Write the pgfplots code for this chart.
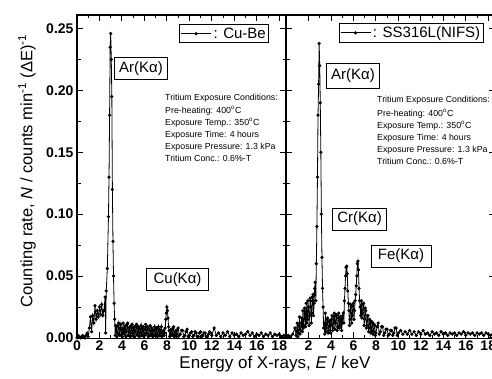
\documentclass[border=0pt]{standalone}
\usepackage{pgfplots}
\pgfplotsset{compat=1.18}
\usepackage{fontspec}
\setmainfont{Liberation Sans}
\setsansfont{Liberation Sans}

\pgfplotstableread{
x y
0.0 0.000
0.1 0.002
0.2 0.001
0.3 0.000
0.4 0.001
0.5 0.002
0.6 0.001
0.7 0.000
0.8 0.002
0.9 0.004
1.0 0.001
1.1 0.008
1.2 0.017
1.3 0.005
1.4 0.018
1.5 0.012
1.6 0.026
1.7 0.015
1.8 0.022
1.9 0.017
2.0 0.025
2.1 0.019
2.2 0.027
2.3 0.018
2.4 0.022
2.5 0.033
2.55 0.004
2.6 0.038
2.7 0.056
2.8 0.098
2.85 0.130
2.9 0.180
2.95 0.235
3.0 0.246
3.05 0.225
3.1 0.195
3.15 0.120
3.2 0.078
3.25 0.050
3.3 0.028
3.35 0.015
3.4 0.002
3.45 0.010
3.5 0.009
3.55 0.001
3.6 0.004
3.65 0.010
3.7 0.012
3.75 0.003
3.8 0.002
3.85 0.008
3.9 0.011
3.95 0.002
4.0 0.006
4.05 0.001
4.1 0.012
4.15 0.004
4.2 0.003
4.25 0.009
4.3 0.010
4.35 0.001
4.4 0.005
4.45 0.011
4.5 0.012
4.55 0.002
4.6 0.002
4.65 0.008
4.7 0.009
4.75 0.001
4.8 0.004
4.85 0.010
4.9 0.011
4.95 0.002
5.0 0.003
5.05 0.008
5.1 0.009
5.15 0.001
5.2 0.005
5.25 0.010
5.3 0.011
5.35 0.003
5.4 0.002
5.45 0.009
5.5 0.008
5.55 0.001
5.6 0.004
5.65 0.007
5.7 0.010
5.75 0.002
5.8 0.003
5.85 0.008
5.9 0.009
5.95 0.001
6.0 0.002
6.05 0.007
6.1 0.011
6.15 0.003
6.2 0.004
6.25 0.009
6.3 0.008
6.35 0.001
6.4 0.002
6.45 0.006
6.5 0.010
6.55 0.002
6.6 0.003
6.65 0.008
6.7 0.007
6.75 0.001
6.8 0.002
6.85 0.006
6.9 0.009
6.95 0.002
7.0 0.003
7.05 0.007
7.1 0.008
7.15 0.001
7.2 0.002
7.25 0.009
7.3 0.007
7.35 0.002
7.4 0.004
7.45 0.006
7.5 0.009
7.55 0.001
7.6 0.002
7.65 0.005
7.7 0.006
7.75 0.002
7.8 0.004
7.85 0.008
7.9 0.015
7.95 0.020
8.0 0.025
8.05 0.022
8.1 0.016
8.15 0.009
8.2 0.006
8.25 0.001
8.3 0.002
8.35 0.006
8.4 0.007
8.45 0.002
8.5 0.003
8.55 0.008
8.6 0.009
8.65 0.001
8.7 0.002
8.75 0.005
8.8 0.006
8.85 0.001
8.9 0.003
8.95 0.007
9.0 0.008
9.1 0.002
9.2 0.003
9.3 0.006
9.4 0.006
9.5 0.001
9.6 0.002
9.7 0.005
9.8 0.007
9.9 0.001
10.0 0.002
10.1 0.004
10.2 0.005
10.3 0.001
10.4 0.002
10.5 0.005
10.6 0.004
10.7 0.001
10.8 0.001
10.9 0.004
11.0 0.005
11.1 0.001
11.2 0.002
11.3 0.004
11.4 0.004
11.5 0.001
11.6 0.001
11.7 0.003
11.8 0.005
12.0 0.002
12.2 0.008
12.4 0.002
12.6 0.004
12.8 0.001
13.0 0.004
13.2 0.002
13.4 0.005
13.6 0.001
13.8 0.004
14.0 0.002
14.2 0.003
14.4 0.001
14.6 0.004
14.8 0.002
15.0 0.003
15.2 0.005
15.4 0.002
15.6 0.004
15.8 0.001
16.0 0.003
16.2 0.002
16.4 0.004
16.6 0.001
16.8 0.003
17.0 0.002
17.2 0.004
17.4 0.001
17.6 0.003
17.8 0.002
18.0 0.003
18.2 0.001
18.4 0.002
18.6 0.002
}\cube

\pgfplotstableread{
x y
0.0 0.001
0.2 0.002
0.4 0.001
0.6 0.003
0.8 0.008
0.9 0.002
1.0 0.012
1.05 0.001
1.1 0.004
1.15 0.010
1.2 0.017
1.25 0.003
1.3 0.006
1.35 0.012
1.4 0.016
1.45 0.005
1.5 0.022
1.55 0.008
1.6 0.010
1.65 0.024
1.7 0.020
1.75 0.009
1.8 0.028
1.85 0.012
1.9 0.015
1.95 0.030
2.0 0.025
2.05 0.010
2.1 0.018
2.15 0.032
2.2 0.030
2.25 0.012
2.3 0.020
2.35 0.033
2.4 0.035
2.45 0.018
2.5 0.028
2.55 0.040
2.6 0.045
2.65 0.030
2.7 0.060
2.75 0.090
2.8 0.130
2.85 0.180
2.9 0.205
2.95 0.238
3.0 0.220
3.05 0.190
3.1 0.150
3.15 0.100
3.2 0.065
3.25 0.040
3.3 0.025
3.35 0.008
3.4 0.012
3.45 0.003
3.5 0.020
3.55 0.005
3.6 0.008
3.65 0.015
3.7 0.016
3.75 0.004
3.8 0.006
3.85 0.013
3.9 0.014
3.95 0.004
4.0 0.010
4.05 0.015
4.1 0.018
4.15 0.006
4.2 0.008
4.25 0.017
4.3 0.020
4.35 0.007
4.4 0.012
4.45 0.019
4.5 0.018
4.55 0.006
4.6 0.009
4.65 0.016
4.7 0.020
4.75 0.008
4.8 0.010
4.85 0.017
4.9 0.015
4.95 0.006
5.0 0.012
5.05 0.018
5.1 0.020
5.15 0.012
5.2 0.030
5.25 0.040
5.3 0.050
5.35 0.057
5.4 0.058
5.45 0.052
5.5 0.038
5.55 0.028
5.6 0.022
5.65 0.010
5.7 0.015
5.75 0.027
5.8 0.025
5.85 0.012
5.9 0.018
5.95 0.026
6.0 0.028
6.05 0.015
6.1 0.022
6.15 0.030
6.2 0.035
6.25 0.042
6.3 0.050
6.35 0.060
6.4 0.062
6.45 0.055
6.5 0.040
6.55 0.030
6.6 0.025
6.65 0.018
6.7 0.030
6.75 0.016
6.8 0.020
6.85 0.027
6.9 0.028
6.95 0.010
7.0 0.015
7.05 0.024
7.1 0.022
7.15 0.008
7.2 0.010
7.25 0.018
7.3 0.018
7.35 0.005
7.4 0.008
7.45 0.015
7.5 0.014
7.55 0.004
7.6 0.006
7.65 0.013
7.7 0.012
7.75 0.003
7.8 0.005
7.85 0.011
7.9 0.010
7.95 0.002
8.0 0.004
8.1 0.009
8.2 0.012
8.3 0.003
8.4 0.005
8.5 0.009
8.6 0.009
8.7 0.002
8.8 0.004
8.9 0.007
9.0 0.007
9.1 0.002
9.2 0.003
9.3 0.006
9.4 0.006
9.5 0.002
9.6 0.004
9.7 0.008
9.8 0.008
9.9 0.002
10.0 0.004
10.2 0.006
10.4 0.003
10.6 0.005
10.8 0.003
11.0 0.006
11.2 0.003
11.4 0.005
11.6 0.002
11.8 0.005
12.0 0.003
12.2 0.006
12.4 0.003
12.6 0.004
12.8 0.002
13.0 0.005
13.2 0.003
13.4 0.004
13.6 0.002
13.8 0.005
14.0 0.003
14.2 0.004
14.4 0.002
14.6 0.004
14.8 0.003
15.0 0.004
15.2 0.002
15.4 0.004
15.6 0.003
15.8 0.005
16.0 0.002
16.2 0.004
16.4 0.003
16.6 0.004
16.8 0.002
17.0 0.004
17.2 0.003
17.4 0.004
17.6 0.002
17.8 0.004
18.0 0.003
18.2 0.002
18.4 0.003
18.6 0.002
}\ss

\pgfplotsset{
  panel/.style={
    scale only axis,
    width=209pt, height=323.5pt,
    xmin=0, xmax=18.6,
    ymin=-0.0005, ymax=0.261,
    ytick={0,0.05,0.10,0.15,0.20,0.25},
    yticklabels={0.00,0.05,0.10,0.15,0.20,0.25},
    minor x tick num=1,
    minor y tick num=1,
    tick align=inside,
    major tick length=6pt,
    minor tick length=3.5pt,
    axis line style={line width=1.1pt},
    every tick/.style={line width=0.9pt, black},
    tick label style={font=\fontsize{14}{16}\selectfont\bfseries},
    xticklabel style={yshift=1pt},
    legend cell align=left,
    legend style={draw=black, line width=0.6pt, font=\fontsize{15}{17}\selectfont,
      inner xsep=1pt, inner ysep=1pt, anchor=north east},
    legend image code/.code={\draw[#1,mark repeat=2,mark phase=2] plot coordinates {(0pt,0pt) (15pt,0pt) (30pt,0pt)};},
  },
  spec/.style={black, line width=0.8pt, mark=*, mark size=1.2pt, mark options={solid}},
}

\begin{document}
\begin{tikzpicture}
\begin{axis}[panel, at={(77pt,40.5pt)}, anchor=south west,
  xtick={0,2,...,18},
  xticklabels={0,2,4,6,8,10,12,14,16,18},
  legend style={at={(0.919,0.971)}}]
\addplot[spec] table[x=x,y=y] {\cube};
\addlegendentry{: Cu-Be}
\end{axis}
\begin{axis}[panel, at={(286pt,40.5pt)}, anchor=south west,
  xtick={2,4,...,18},
  xticklabels={2,4,6,8,10,12,14,16,18},
  yticklabels={},
  legend style={at={(0.945,0.974)}}]
\addplot[spec] table[x=x,y=y] {\ss};
\addlegendentry{: SS316L(NIFS)}
\end{axis}

\node[rotate=90, font=\fontsize{16.5}{19}\selectfont] at (27pt,208pt)
  {Counting rate, \textit{N} / counts min\textsuperscript{-1} (ΔE)\textsuperscript{-1}};
\node[font=\fontsize{17}{19}\selectfont] at (275pt,15pt) {Energy of X-rays, \textit{E} / keV};

\tikzset{lab/.style={draw=black, line width=0.6pt, fill=white, font=\fontsize{15}{17}\selectfont, inner xsep=4.5pt, inner ysep=4pt}}
\node[lab] at (141pt,310.5pt) {Ar(Kα)};
\node[lab, inner ysep=5.5pt] at (353pt,303.5pt) {Ar(Kα)};
\node[lab, inner xsep=7pt] at (177.5pt,99.5pt) {Cu(Kα)};
\node[lab, inner xsep=5pt] at (359.5pt,160pt) {Cr(Kα)};
\node[lab, inner xsep=7pt] at (401pt,123pt) {Fe(Kα)};

\tikzset{cond/.style={anchor=north west, align=left, inner sep=0pt, font=\fontsize{8.8}{12}\selectfont}}
\node[cond] at (165pt,285pt) {Tritium Exposure Conditions:\\[1pt] Pre-heating: 400\textsuperscript{o}C\\ Exposure Temp.: 350\textsuperscript{o}C\\ Exposure Time: 4 hours\\ Exposure Pressure: 1.3 kPa\\ Tritium Conc.: 0.6\%-T};
\node[cond] at (377pt,283pt) {Tritium Exposure Conditions:\\[2pt] Pre-heating: 400\textsuperscript{o}C\\ Exposure Temp.: 350\textsuperscript{o}C\\ Exposure Time: 4 hours\\ Exposure Pressure: 1.3 kPa\\ Tritium Conc.: 0.6\%-T};

\pgfresetboundingbox
\useasboundingbox (0pt,0pt) rectangle (492pt,379pt);
\end{tikzpicture}
\end{document}
